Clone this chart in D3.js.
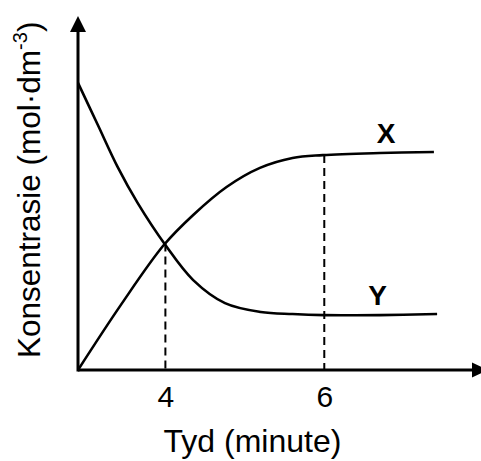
<!DOCTYPE html>
<html>
<head>
<meta charset="utf-8">
<script src="https://cdn.jsdelivr.net/npm/d3@7"></script>
<style>
  html, body { margin: 0; padding: 0; background: #fff; }
  svg { display: block; }
  text { font-family: "Liberation Sans", Arial, sans-serif; fill: #000; }
</style>
</head>
<body>
<div id="chart"></div>
<script>
// ---- Data (schematic concentration vs time) ----
const seriesNames = ["X", "Y"];
const timeX = [2.9, 3.44, 3.98, 4.35, 4.77, 5.19, 5.6, 5.98, 6.7, 7.38];
const concX = [0, 1.84, 3.53, 4.38, 5.17, 5.71, 5.99, 6.07, 6.13, 6.16];
const timeY = [2.9, 3.15, 3.4, 3.65, 4.0, 4.35, 4.75, 5.2, 5.6, 6.0, 6.7, 7.42];
const concY = [8.11, 6.92, 5.73, 4.72, 3.53, 2.54, 1.89, 1.64, 1.58, 1.55, 1.55, 1.58];
const tickValues = [4, 6];
const tickLabels = ["4", "6"];
const markerTimes = [4, 6];
const xTitle = "Tyd (minute)";
const yTitleMain = "Konsentrasie (mol·dm";
const yTitleSup = "-3";

const W = 481, H = 461;
const svg = d3.select("#chart").append("svg").attr("width", W).attr("height", H);

const x = d3.scaleLinear().domain([2.9, 7.96]).range([78, 480]);
const y = d3.scaleLinear().domain([0, 10]).range([370, 16]);

const line = d3.line().x(d => x(d[0])).y(d => y(d[1])).curve(d3.curveCatmullRom.alpha(0.5));
const dataX = timeX.map((t, i) => [t, concX[i]]);
const dataY = timeY.map((t, i) => [t, concY[i]]);

function valueAt(data, t) {
  for (let i = 0; i < data.length - 1; i++) {
    if (t >= data[i][0] && t <= data[i + 1][0]) {
      const f = (t - data[i][0]) / (data[i + 1][0] - data[i][0]);
      return data[i][1] + f * (data[i + 1][1] - data[i][1]);
    }
  }
  return data[data.length - 1][1];
}

// dashed guide lines
markerTimes.forEach(t => {
  const top = Math.max(valueAt(dataX, t), valueAt(dataY, t));
  svg.append("line")
    .attr("x1", x(t)).attr("x2", x(t))
    .attr("y1", y(top)).attr("y2", y(0))
    .attr("stroke", "#000").attr("stroke-width", 2)
    .attr("stroke-dasharray", "8,5");
});

// curves
[dataX, dataY].forEach(d => {
  svg.append("path").datum(d)
    .attr("d", line)
    .attr("fill", "none")
    .attr("stroke", "#000")
    .attr("stroke-width", 2.6);
});

// axes
const xAxis = d3.axisBottom(x).tickValues(tickValues).tickFormat((d, i) => tickLabels[i]).tickSize(0).tickPadding(16);
const gx = svg.append("g").attr("transform", `translate(0,${y(0)})`).call(xAxis);
gx.select(".domain").remove();
gx.attr("font-size", null).attr("font-family", null);
gx.selectAll("text").style("font-size", "30px").style("font-family", "'Liberation Sans', Arial, sans-serif").attr("fill", "#000");

svg.append("line").attr("x1", x(2.9)).attr("x2", 474).attr("y1", y(0)).attr("y2", y(0))
  .attr("stroke", "#000").attr("stroke-width", 3);
svg.append("line").attr("x1", x(2.9)).attr("x2", x(2.9)).attr("y1", y(0) + 1.5).attr("y2", 28)
  .attr("stroke", "#000").attr("stroke-width", 3);

// arrowheads
svg.append("path").attr("d", `M472,362.5 L488,370 L472,377.5 Z`).attr("fill", "#000");
svg.append("path").attr("d", `M${x(2.9)},16 L${x(2.9) - 8},32 L${x(2.9) + 8},32 Z`).attr("fill", "#000");

// series labels
svg.append("text").attr("x", 386).attr("y", 143).attr("text-anchor", "middle")
  .style("font-size", "28px").attr("font-weight", "bold").text(seriesNames[0]);
svg.append("text").attr("x", 377.5).attr("y", 305).attr("text-anchor", "middle")
  .style("font-size", "28px").attr("font-weight", "bold").text(seriesNames[1]);

// axis titles
svg.append("text").attr("x", 252.5).attr("y", 452).attr("text-anchor", "middle")
  .style("font-size", "32px").text(xTitle);

const yt = svg.append("text").attr("transform", "translate(40,358) rotate(-90)")
  .attr("text-anchor", "start").style("font-size", "31.5px");
yt.append("tspan").text(yTitleMain);
yt.append("tspan").style("font-size", "20px").attr("dy", -13).text(yTitleSup);
yt.append("tspan").attr("dy", 13).text(")");
</script>
</body>
</html>
